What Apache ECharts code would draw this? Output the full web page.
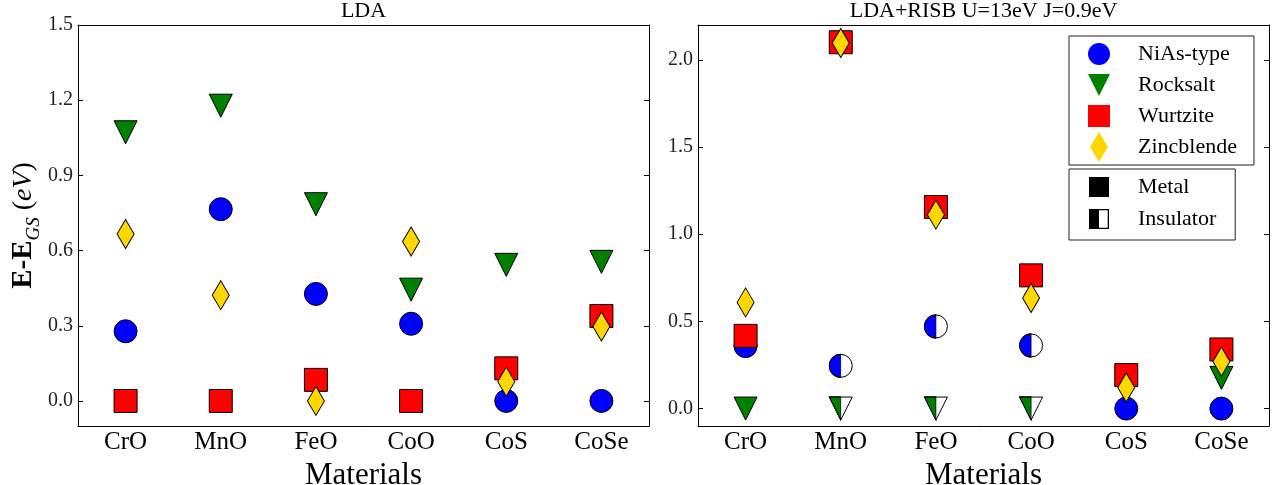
<!DOCTYPE html>
<html>
<head>
<meta charset="utf-8">
<script src="https://cdn.jsdelivr.net/npm/echarts@6/dist/echarts.min.js"></script>
<style>
html,body{margin:0;padding:0;background:#fff;}
#c{width:1279px;height:485px;}
</style>
</head>
<body>
<div id="c"></div>
<script>
// ---- data ----
const categories = ['CrO', 'MnO', 'FeO', 'CoO', 'CoS', 'CoSe'];

// LDA panel
const ldaNiAs       = [0.278, 0.765, 0.427, 0.308, 0.0, 0.0];
const ldaRocksalt   = [1.072, 1.178, 0.785, 0.444, 0.543, 0.555];
const ldaWurtzite   = [0.0, 0.0, 0.084, 0.0, 0.130, 0.339];
const ldaZincblende = [0.666, 0.422, 0.0, 0.636, 0.077, 0.297];

// LDA+RISB panel
const risbNiAs       = [0.358, 0.245, 0.471, 0.362, 0.0, 0.0];
const risbRocksalt   = [0.0, 0.0, 0.0, 0.0, null, 0.176];
const risbWurtzite   = [0.417, 2.101, 1.156, 0.764, 0.192, 0.339];
const risbZincblende = [0.609, 2.097, 1.112, 0.634, 0.121, 0.270];
const risbNiAsInsulator     = [false, true, true, true, false, false];
const risbRocksaltInsulator = [false, true, true, true, false, false];

// tick labels
const ldaTicks  = [0.0, 0.3, 0.6, 0.9, 1.2, 1.5];
const risbTicks = [0.0, 0.5, 1.0, 1.5, 2.0];

// ---- styling ----
const FONT = 'Liberation Serif';
const COL = {niAs: '#0000ff', rock: '#008000', wurtz: '#ff0000', zinc: '#ffd700'};
const BORDER = {borderColor: '#000', borderWidth: 1};
const SZ = 23;

function pts(arr) {
  const out = [];
  arr.forEach((v, i) => { if (v !== null && v !== undefined) out.push([i, v]); });
  return out;
}
function ptsWithInsul(arr, insul) {
  const out = [];
  arr.forEach((v, i) => {
    if (v === null || v === undefined) return;
    if (insul[i]) out.push({value: [i, v], itemStyle: {color: '#fff'}});
    else out.push([i, v]);
  });
  return out;
}
function halfPts(arr, insul) {
  const out = [];
  arr.forEach((v, i) => { if (v !== null && v !== undefined && insul[i]) out.push([i, v]); });
  return out;
}

function xAxes(grid, title) {
  return [
    {
      type: 'category', gridIndex: grid, data: categories, position: 'bottom',
      boundaryGap: true,
      axisLine: {onZero: false, lineStyle: {color: '#000', width: 1}},
      axisTick: {inside: true, alignWithLabel: true, length: 5, lineStyle: {color: '#000'}},
      axisLabel: {fontFamily: FONT, fontSize: 25, color: '#000', margin: 4},
      splitLine: {show: false},
      name: 'Materials', nameLocation: 'middle', nameGap: 24,
      nameTextStyle: {fontFamily: FONT, fontSize: 31, color: '#000'}
    },
    {
      type: 'category', gridIndex: grid, data: categories, position: 'top',
      boundaryGap: true,
      axisLine: {onZero: false, lineStyle: {color: '#000', width: 1}},
      axisTick: {inside: true, alignWithLabel: true, length: 5, lineStyle: {color: '#000'}},
      axisLabel: {show: false},
      splitLine: {show: false},
      name: title, nameLocation: 'middle', nameGap: 3,
      nameTextStyle: {fontFamily: FONT, fontSize: 22, color: '#000'}
    }
  ];
}
function yAxes(grid, min, max, ticks, withName) {
  const left = {
    type: 'value', gridIndex: grid, position: 'left', min: min, max: max,
    axisLine: {show: true, onZero: false, lineStyle: {color: '#000', width: 1}},
    axisTick: {show: true, inside: true, length: 5, customValues: ticks, lineStyle: {color: '#000'}},
    axisLabel: {customValues: ticks, formatter: v => Number(v).toFixed(1),
      fontFamily: FONT, fontSize: 20, color: '#222', margin: 5},
    splitLine: {show: false}
  };
  if (withName) {
    left.name = '{b|E-E}{s|GS}{n| (}{i|eV}{n|)}';
    left.nameLocation = 'middle';
    left.nameGap = 38;
    left.nameRotate = 90;
    left.nameTextStyle = {
      fontFamily: FONT, color: '#000',
      rich: {
        b: {fontFamily: FONT, fontSize: 29, fontWeight: 'bold', lineHeight: 32, verticalAlign: 'middle'},
        s: {fontFamily: FONT, fontSize: 19, fontStyle: 'italic', lineHeight: 32, verticalAlign: 'bottom', padding: [0, 0, -3, 0]},
        n: {fontFamily: FONT, fontSize: 28, lineHeight: 32, verticalAlign: 'middle'},
        i: {fontFamily: FONT, fontSize: 28, fontStyle: 'italic', lineHeight: 32, verticalAlign: 'middle'}
      }
    };
  }
  const right = {
    type: 'value', gridIndex: grid, position: 'right', min: min, max: max,
    axisLine: {show: true, onZero: false, lineStyle: {color: '#000', width: 1}},
    axisTick: {show: true, inside: true, length: 5, customValues: ticks, lineStyle: {color: '#000'}},
    axisLabel: {show: false},
    splitLine: {show: false}
  };
  return [left, right];
}

function scatter(name, xi, yi, data, symbol, size, color, extra) {
  return Object.assign({
    name: name, type: 'scatter', xAxisIndex: xi, yAxisIndex: yi,
    data: data, symbol: symbol, symbolSize: size,
    itemStyle: Object.assign({color: color, opacity: 1}, BORDER),
    emphasis: {disabled: true}, animation: false
  }, extra || {});
}

const halfDisk = 'path://M10,0 A10,10 0 0 0 10,20 Z';
const halfTri = 'path://M0,0 L10,0 L10,20 Z';
const triDown = 'path://M0,0 L20,0 L10,20 Z';
const squareIcon = 'path://M0,0 H20 V20 H0 Z';
const diamondIcon = 'path://M9,0 L18,15 L9,30 L0,15 Z';
const insulIcon = 'path://M0,0 H10 V20 H0 Z M10,0 H20 V20 H10 Z M10,1.3 V18.7 H18.7 V1.3 Z';

const series = [
  // LDA
  scatter('NiAs-type', 0, 0, pts(ldaNiAs), 'circle', SZ, COL.niAs),
  scatter('Rocksalt', 0, 0, pts(ldaRocksalt), 'triangle', SZ, COL.rock, {symbolRotate: 180}),
  scatter('Wurtzite', 0, 0, pts(ldaWurtzite), 'rect', SZ, COL.wurtz),
  scatter('Zincblende', 0, 0, pts(ldaZincblende), 'diamond', [17, 29], COL.zinc),
  // LDA+RISB
  scatter('NiAs-type', 2, 2, ptsWithInsul(risbNiAs, risbNiAsInsulator), 'circle', SZ, COL.niAs),
  scatter('NiAs-type half', 2, 2, halfPts(risbNiAs, risbNiAsInsulator), halfDisk, [SZ / 2, SZ], COL.niAs,
    {symbolOffset: [-SZ / 4, 0]}),
  scatter('Rocksalt', 2, 2, ptsWithInsul(risbRocksalt, risbRocksaltInsulator), 'triangle', SZ, COL.rock, {symbolRotate: 180}),
  scatter('Rocksalt half', 2, 2, halfPts(risbRocksalt, risbRocksaltInsulator), halfTri, [SZ / 2, SZ], COL.rock,
    {symbolOffset: [-SZ / 4, 0]}),
  scatter('Wurtzite', 2, 2, pts(risbWurtzite), 'rect', SZ, COL.wurtz),
  scatter('Zincblende', 2, 2, pts(risbZincblende), 'diamond', [17, 29], COL.zinc),
  // legend-only entries
  scatter('Metal', 2, 2, [], 'rect', 20, '#000'),
  scatter('Insulator', 2, 2, [], insulIcon, 20, '#000')
];

const chart = echarts.init(document.getElementById('c'), null, {renderer: 'canvas'});
chart.setOption({
  animation: false,
  backgroundColor: '#fff',
  grid: [
    {left: 78, top: 25, right: 630, bottom: 59, outerBoundsMode: 'none', containLabel: false},
    {left: 698, top: 25, right: 10, bottom: 59, outerBoundsMode: 'none', containLabel: false}
  ],
  xAxis: [].concat(xAxes(0, 'LDA'), xAxes(1, 'LDA+RISB U=13eV J=0.9eV')),
  yAxis: [].concat(yAxes(0, -0.1, 1.5, ldaTicks, true), yAxes(1, -0.1, 2.2, risbTicks, false)),
  legend: [
    {
      orient: 'vertical', left: 1069, top: 36, padding: [3, 17, 3, 19],
      itemWidth: 22, itemHeight: 30, itemGap: 1,
      selectedMode: false,
      borderColor: '#222', borderWidth: 1, borderRadius: 0,
      itemStyle: {borderWidth: 0},
      textStyle: {fontFamily: FONT, fontSize: 22, color: '#000', padding: [0, 0, 0, 23], lineHeight: 30},
      data: [
        {name: 'NiAs-type', icon: 'circle'},
        {name: 'Rocksalt', icon: triDown},
        {name: 'Wurtzite', icon: squareIcon},
        {name: 'Zincblende', icon: diamondIcon}
      ]
    },
    {
      orient: 'vertical', left: 1069, top: 169, padding: [7, 19, 10, 20],
      itemWidth: 20, itemHeight: 20, itemGap: 10,
      selectedMode: false,
      borderColor: '#222', borderWidth: 1, borderRadius: 0,
      itemStyle: {borderWidth: 0},
      textStyle: {fontFamily: FONT, fontSize: 22, color: '#000', padding: [0, 0, 0, 24], lineHeight: 20},
      data: [
        {name: 'Metal', icon: 'rect'},
        {name: 'Insulator', icon: insulIcon}
      ]
    }
  ],
  series: series
});
</script>
</body>
</html>
